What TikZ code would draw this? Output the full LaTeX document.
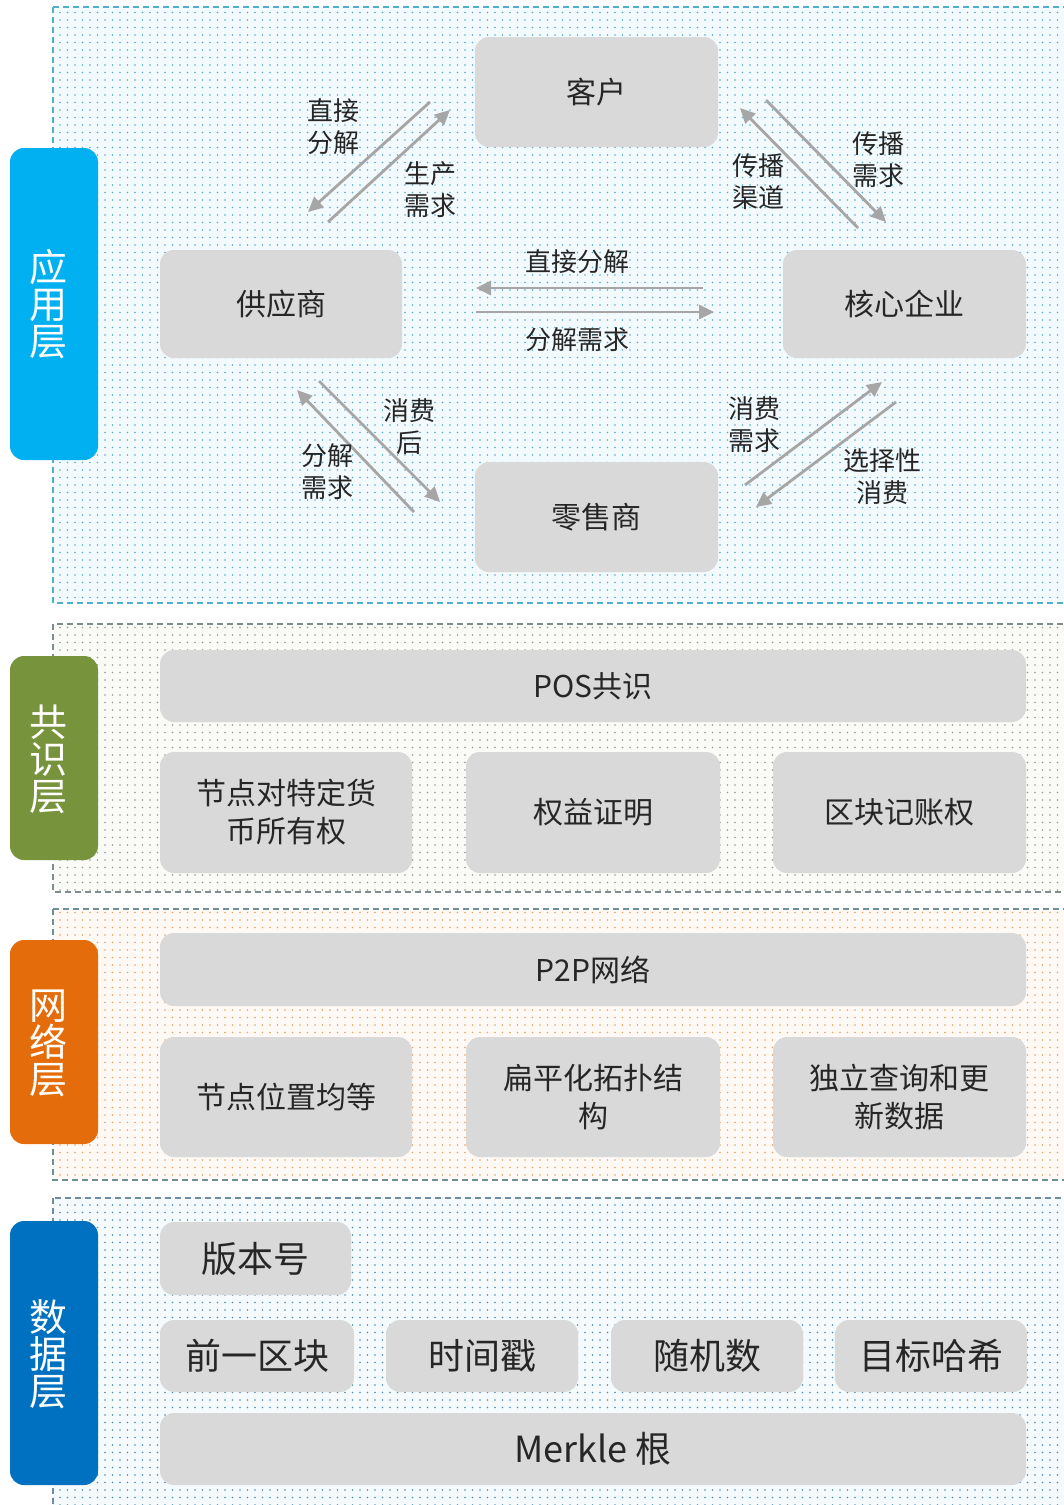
\documentclass[tikz,border=0pt]{standalone}
\usepackage{fontspec}
\setmainfont{Noto Sans CJK SC}
\usetikzlibrary{patterns.meta,arrows.meta}
\definecolor{boxgray}{HTML}{D9D9D9}
\definecolor{arrgray}{HTML}{A6A6A6}
\definecolor{txt}{HTML}{262626}
\definecolor{labA}{HTML}{00B0F0}
\definecolor{labB}{HTML}{77933C}
\definecolor{labC}{HTML}{E46C0A}
\definecolor{labD}{HTML}{0070C0}
\begin{document}
\begin{tikzpicture}[x=1pt,y=-1pt,
  box/.style={fill=boxgray, rounded corners=14pt, align=center, inner sep=0pt, text=txt,
    font=\fontsize{30}{38}\selectfont},
  bigbox/.style={box, font=\fontsize{36}{42}\selectfont},
  layerlab/.style={rounded corners=14pt, inner sep=0pt, minimum width=88pt},
  layertext/.style={align=center, inner sep=0pt, text=white, font=\fontsize{38}{37}\selectfont},
  flow/.style={draw=arrgray, line width=2.8pt, -{Triangle[length=15pt,width=14pt]}},
  lbl/.style={align=center, text=txt, inner sep=0pt, font=\fontsize{26}{32}\selectfont},
  frame/.style={line width=1.2pt, dash pattern=on 6pt off 4pt}
]
\useasboundingbox (0,0) rectangle (1064,1505);
\begin{scope}
\clip (0,0) rectangle (1064,1505);
% layer backgrounds
\path[fill={rgb,255:red,243;green,250;blue,253}, postaction={pattern={Dots[distance=7.5pt,radius=0.8pt]}, pattern color={rgb,255:red,90;green,170;blue,205}}]
  (53,7) rectangle (1075,603);
\draw[frame, draw={rgb,255:red,80;green,175;blue,205}] (53,7) rectangle (1075,603);
\path[fill={rgb,255:red,250;green,250;blue,246}, postaction={pattern={Dots[distance=7.5pt,radius=0.8pt]}, pattern color={rgb,255:red,150;green,155;blue,145}}]
  (53,624) rectangle (1075,892);
\draw[frame, draw={rgb,255:red,125;green,140;blue,140}] (53,624) rectangle (1075,892);
\path[fill={rgb,255:red,254;green,249;blue,244}, postaction={pattern={Dots[distance=7.5pt,radius=0.8pt]}, pattern color={rgb,255:red,235;green,160;blue,100}}]
  (53,909) rectangle (1075,1180);
\draw[frame, draw={rgb,255:red,110;green,145;blue,150}] (53,909) rectangle (1075,1180);
\path[fill={rgb,255:red,245;green,250;blue,253}, postaction={pattern={Dots[distance=7.5pt,radius=0.8pt]}, pattern color={rgb,255:red,80;green,140;blue,180}}]
  (53,1198) rectangle (1075,1520);
\draw[frame, draw={rgb,255:red,110;green,140;blue,160}] (53,1198) rectangle (1075,1520);
\end{scope}

% layer labels
\node[layerlab, fill=labA, minimum height=312pt] (L1) at (54,304) {};
\node[layerlab, fill=labB, minimum height=204pt] (L2) at (54,758) {};
\node[layerlab, fill=labC, minimum height=204pt] (L3) at (54,1042) {};
\node[layerlab, fill=labD, minimum height=264pt] (L4) at (54,1353) {};
\node[layertext] (L1t) at (48,304) {应\\用\\层};
\node[layertext] (L2t) at (48,759) {共\\识\\层};
\node[layertext] (L3t) at (48,1043) {网\\络\\层};
\node[layertext] (L4t) at (48,1354) {数\\据\\层};

% application layer nodes
\node[box, minimum width=243pt, minimum height=110pt] (kh) at (596.5,92) {客户};
\node[box, minimum width=242pt, minimum height=108pt] (gys) at (281,304) {供应商};
\node[box, minimum width=243pt, minimum height=108pt] (hx) at (904.5,304) {核心企业};
\node[box, minimum width=243pt, minimum height=110pt] (ls) at (596.5,517) {零售商};

% arrow endpoints
\coordinate (a1s) at (430,102); \coordinate (a1e) at (308,212);
\coordinate (a2s) at (328,222); \coordinate (a2e) at (450,110);
\coordinate (b1s) at (858,228); \coordinate (b1e) at (740,108);
\coordinate (b2s) at (766,100); \coordinate (b2e) at (886,222);
\coordinate (c1s) at (703,288); \coordinate (c1e) at (476,288);
\coordinate (c2s) at (476,312); \coordinate (c2e) at (714,312);
\coordinate (d1s) at (414,512); \coordinate (d1e) at (297,390);
\coordinate (d2s) at (319,381); \coordinate (d2e) at (440,502);
\coordinate (e1s) at (745,485); \coordinate (e1e) at (882,382);
\coordinate (e2s) at (896,402); \coordinate (e2e) at (756,507);

\draw[flow] (a1s) -- (a1e);
\draw[flow] (a2s) -- (a2e);
\draw[flow] (b1s) -- (b1e);
\draw[flow] (b2s) -- (b2e);
\draw[flow] (c1s) -- (c1e);
\draw[flow] (c2s) -- (c2e);
\draw[flow] (d1s) -- (d1e);
\draw[flow] (d2s) -- (d2e);
\draw[flow] (e1s) -- (e1e);
\draw[flow] (e2s) -- (e2e);

\node[lbl] (t1) at (333,127) {直接\\分解};
\node[lbl] (t2) at (430,190) {生产\\需求};
\node[lbl] (t3) at (758,182) {传播\\渠道};
\node[lbl] (t4) at (878,160) {传播\\需求};
\node[lbl] (t5) at (577,262) {直接分解};
\node[lbl] (t6) at (577,340) {分解需求};
\node[lbl] (t7) at (409,427) {消费\\后};
\node[lbl] (t8) at (327,472) {分解\\需求};
\node[lbl] (t9) at (754,425) {消费\\需求};
\node[lbl] (t10) at (882,477) {选择性\\消费};

% consensus layer
\node[box, minimum width=866pt, minimum height=72pt] (pos) at (593,686) {POS共识};
\node[box, minimum width=252pt, minimum height=121pt] (n1) at (286,812.5) {节点对特定货\\币所有权};
\node[box, minimum width=254pt, minimum height=121pt] (n2) at (593,812.5) {权益证明};
\node[box, minimum width=253pt, minimum height=121pt] (n3) at (899.5,812.5) {区块记账权};

% network layer
\node[box, minimum width=866pt, minimum height=73pt] (p2p) at (593,969.5) {P2P网络};
\node[box, minimum width=252pt, minimum height=120pt] (m1) at (286,1097) {节点位置均等};
\node[box, minimum width=254pt, minimum height=120pt] (m2) at (593,1097) {扁平化拓扑结\\构};
\node[box, minimum width=253pt, minimum height=120pt] (m3) at (899.5,1097) {独立查询和更\\新数据};

% data layer
\node[bigbox, minimum width=191pt, minimum height=73pt] (v) at (255.5,1258.5) {版本号};
\node[bigbox, minimum width=194pt, minimum height=72pt] (q1) at (257,1356) {前一区块};
\node[bigbox, minimum width=192pt, minimum height=72pt] (q2) at (482,1356) {时间戳};
\node[bigbox, minimum width=192pt, minimum height=72pt] (q3) at (707,1356) {随机数};
\node[bigbox, minimum width=192pt, minimum height=72pt] (q4) at (931,1356) {目标哈希};
\node[bigbox, minimum width=866pt, minimum height=72pt] (mk) at (593,1449) {Merkle 根};
\end{tikzpicture}
\end{document}
